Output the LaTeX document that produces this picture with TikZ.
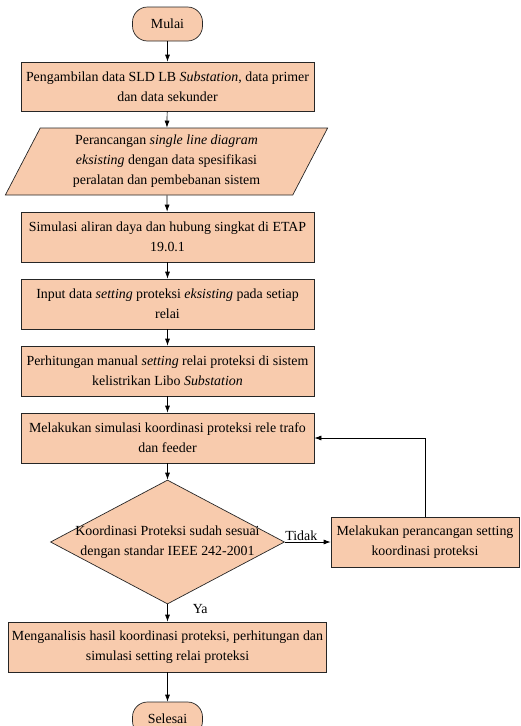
\documentclass[tikz,border=0pt]{standalone}
\usepackage{fontspec}
\setmainfont{Liberation Serif}
\usetikzlibrary{shapes.geometric,arrows.meta}
\definecolor{peach}{HTML}{F8CBAD}
\newcommand{\diagfont}{\fontsize{13.9}{20}\selectfont}
\begin{document}
\begin{tikzpicture}[x=1pt,y=-1pt,
  every node/.style={font=\diagfont},
  box/.style={draw=black!85, fill=peach, line width=0.7pt, align=center, inner sep=2pt, minimum height=50pt},
  term/.style={draw=black!85, fill=peach, line width=0.7pt, rounded corners=15pt, minimum width=70pt, minimum height=34pt, inner sep=2pt},
  io/.style={draw=black!85, fill=peach, line width=0.7pt, align=center, trapezium, trapezium left angle=65, trapezium right angle=115, trapezium stretches=true, minimum width=323pt, minimum height=67pt, inner sep=2pt},
  decision/.style={draw=black!85, fill=peach, line width=0.7pt, diamond, minimum width=234pt, minimum height=124pt, inner sep=0pt},
  arr/.style={-{Latex[length=7pt,width=5pt]}, line width=0.7pt, draw=black},
  lbl/.style={inner sep=1pt}
]
\clip (0,0) rectangle (520,726);
\node[term] (start) at (167.5,24) {Mulai};
\node[box, minimum width=293pt, minimum height=49pt] (b1) at (167.5,86.5) {Pengambilan data SLD LB \textit{Substation}, data primer\\dan data sekunder};
\node[io] (para) at (166.5,161.5) {Perancangan \textit{single line diagram}\\\textit{eksisting} dengan data spesifikasi\\peralatan dan pembebanan sistem};
\node[box, minimum width=293pt] (b2) at (167.5,237) {Simulasi aliran daya dan hubung singkat di ETAP\\19.0.1};
\node[box, minimum width=293pt] (b3) at (167.5,304) {Input data \textit{setting} proteksi \textit{eksisting} pada setiap\\relai};
\node[box, minimum width=293pt] (b4) at (167.5,371) {Perhitungan manual \textit{setting} relai proteksi di sistem\\kelistrikan Libo \textit{Substation}};
\node[box, minimum width=293pt] (b5) at (167.5,438) {Melakukan simulasi koordinasi proteksi rele trafo\\dan feeder};
\node[decision, label={[align=center]center:Koordinasi Proteksi sudah sesuai\\dengan standar IEEE 242-2001}] (dia) at (167.5,542) {};
\node[box, minimum width=188pt] (r) at (425,542) {Melakukan perancangan setting\\koordinasi proteksi};
\node[box, minimum width=318pt] (b6) at (167.5,647) {Menganalisis hasil koordinasi proteksi, perhitungan dan\\simulasi setting relai proteksi};
\node[term] (stop) at (167.5,719) {Selesai};

\draw[arr] (start) -- (b1);
\draw[arr] (b1) -- (para);
\draw[arr] (para) -- (b2);
\draw[arr] (b2) -- (b3);
\draw[arr] (b3) -- (b4);
\draw[arr] (b4) -- (b5);
\draw[arr] (b5) -- (dia);
\draw[arr] (dia.east) -- node[lbl, above, pos=0.36] {Tidak} (r.west);
\draw[arr] (r.north) |- (b5.east);
\draw[arr] (dia.south) -- node[lbl, right, pos=0.28, xshift=24pt] {Ya} (b6.north);
\draw[arr] (b6) -- (stop);
\end{tikzpicture}
\end{document}
